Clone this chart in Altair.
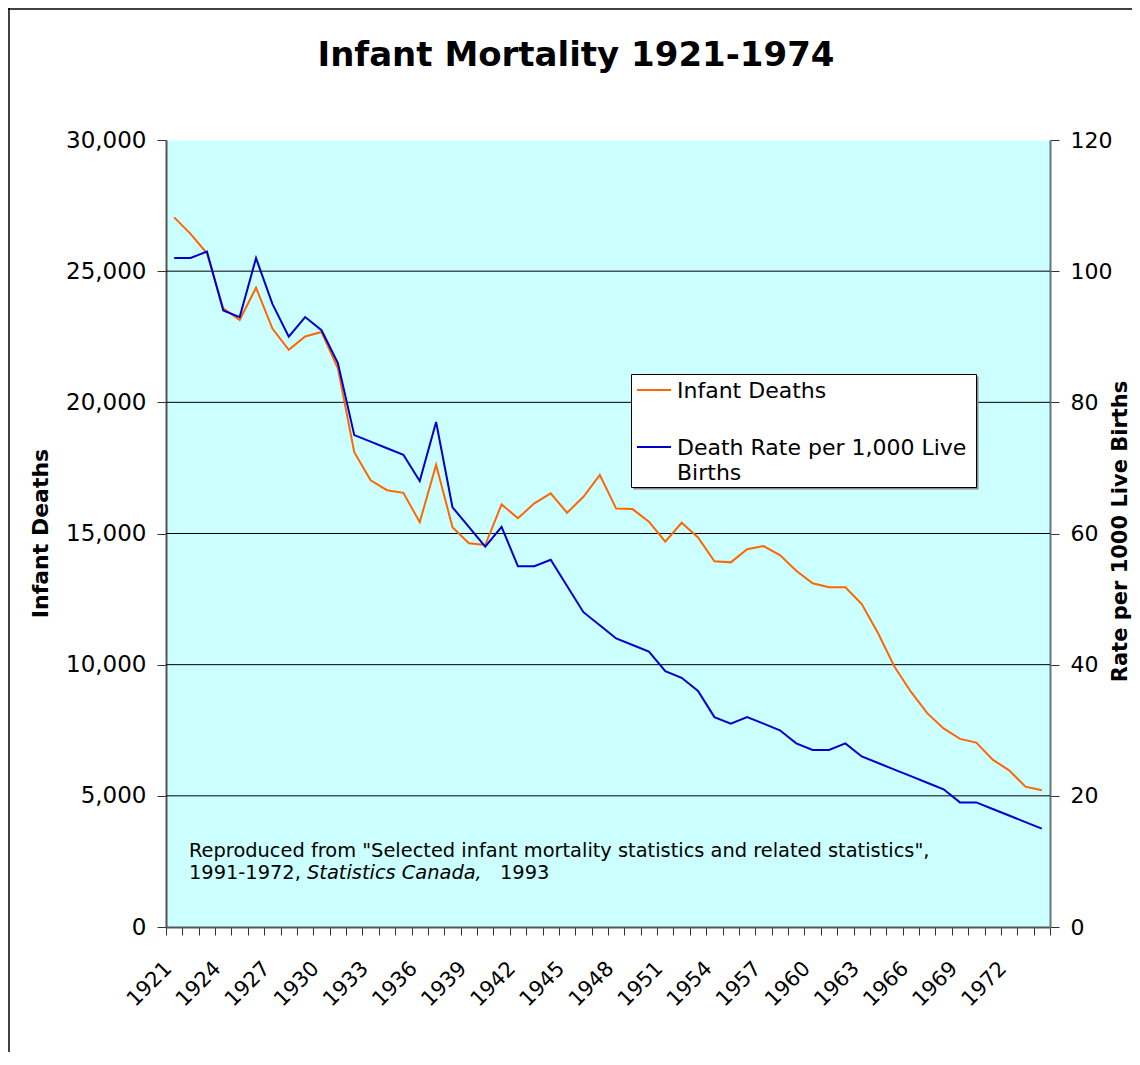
import altair as alt
import pandas as pd

# ---------------- data ----------------
years = list(range(1921, 1975))
infant_deaths = [
    27050, 26420, 25680, 23580, 23140, 24370, 22810, 22000, 22510, 22680,
    21300, 18100, 17030, 16650, 16550, 15430, 17620, 15240, 14630, 14560,
    16110, 15580, 16150, 16530, 15790, 16400, 17230, 15950, 15930, 15450,
    14690, 15410, 14850, 13940, 13900, 14400, 14520, 14180, 13580, 13100,
    12950, 12950, 12310, 11200, 9920, 8970, 8150, 7570, 7170, 7030,
    6380, 5970, 5350, 5210,
]
death_rate = [
    102, 102, 103, 94, 93, 102, 95, 90, 93, 91,
    86, 75, 74, 73, 72, 68, 77, 64, 61, 58,
    61, 55, 55, 56, 52, 48, 46, 44, 43, 42,
    39, 38, 36, 32, 31, 32, 31, 30, 28, 27,
    27, 28, 26, 25, 24, 23, 22, 21, 19, 19,
    18, 17, 16, 15,
]
left_ticks = [0, 5000, 10000, 15000, 20000, 25000, 30000]
right_ticks = [0, 20, 40, 60, 80, 100, 120]
grid_values = [5000, 10000, 15000, 20000, 25000]
label_years = list(range(1921, 1975, 3))
boundary_ticks = [y - 0.5 for y in range(1921, 1976)]

title_text = "Infant Mortality 1921-1974"
left_title = "Infant Deaths"
right_title = "Rate per 1000 Live Births"
legend_label_1 = "Infant Deaths"
legend_label_2a = "Death Rate per 1,000 Live"
legend_label_2b = "Births"
note_line1 = 'Reproduced from "Selected infant mortality statistics and related statistics",'
note_line2a = "1991-1972,"
note_line2b = "Statistics Canada,"
note_line2c = "1993"

ORANGE = "#FF6600"
BLUE = "#0000CC"
FONT = "DejaVu Sans"

df = pd.DataFrame({"year": years, "deaths": infant_deaths, "rate": death_rate})
grid_df = pd.DataFrame({"v": grid_values})
one = pd.DataFrame({"a": [0]})

xdom = [1920.5, 1974.5]

# ---------------- layers ----------------
grid = alt.Chart(grid_df).mark_rule(color="black", strokeWidth=1).encode(
    y=alt.Y("v:Q", scale=alt.Scale(domain=[0, 30000], nice=False), axis=None)
)

orange = alt.Chart(df).mark_line(color=ORANGE, strokeWidth=2).encode(
    x=alt.X(
        "year:Q",
        scale=alt.Scale(domain=xdom, nice=False, zero=False),
        axis=alt.Axis(
            orient="bottom", values=boundary_ticks, labels=False, ticks=True,
            tickSize=8, tickColor="#333333", tickWidth=1,
            domainColor="#555555", domainWidth=2, grid=False,
        ),
        title=None,
    ),
    y=alt.Y(
        "deaths:Q",
        scale=alt.Scale(domain=[0, 30000], nice=False),
        axis=alt.Axis(
            orient="left", values=left_ticks, format=",d", grid=False,
            labelFont=FONT, labelFontSize=23, labelColor="black", labelPadding=11,
            tickSize=9, tickColor="#333333", domainColor="#555555", domainWidth=2,
            title=left_title, titleFont=FONT, titleFontSize=22, titleFontWeight="bold",
            titleColor="black", titleX=-126, titleY=393, titleAngle=270,
            titleAlign="center", titleBaseline="middle",
        ),
    ),
)

blue = alt.Chart(df).mark_line(color=BLUE, strokeWidth=2).encode(
    x=alt.X(
        "year:Q",
        scale=alt.Scale(domain=xdom, nice=False, zero=False),
        axis=alt.Axis(
            orient="bottom", values=label_years, ticks=False, domain=False, grid=False,
            labelAngle=315, labelAlign="right", labelBaseline="middle",
            labelPadding=38, labelOffset=-6, labelFont=FONT, labelFontSize=21,
            labelColor="black", labelOverlap=False, labelFlush=False, format="d",
        ),
        title=None,
    ),
    y=alt.Y(
        "rate:Q",
        scale=alt.Scale(domain=[0, 120], nice=False),
        axis=alt.Axis(
            orient="right", values=right_ticks, format="d", grid=False,
            labelFont=FONT, labelFontSize=22, labelColor="black", labelPadding=11,
            tickSize=9, tickColor="#333333", domainColor="#667777", domainWidth=2,
            title=right_title, titleFont=FONT, titleFontSize=21, titleFontWeight="bold",
            titleColor="black", titleX=70, titleY=391, titleAngle=270,
            titleAlign="center", titleBaseline="middle",
        ),
    ),
)

# legend (custom box)
legend_shadow = alt.Chart(one).mark_rect(color="#8a8a8a").encode(
    x=alt.value(467.5), x2=alt.value(812.5), y=alt.value(236.5), y2=alt.value(349.5)
)
legend_box = alt.Chart(one).mark_rect(fill="white", stroke="black", strokeWidth=1).encode(
    x=alt.value(465.5), x2=alt.value(810.5), y=alt.value(234.5), y2=alt.value(347.5)
)
legend_line1 = alt.Chart(one).mark_rule(color=ORANGE, strokeWidth=2).encode(
    x=alt.value(471), x2=alt.value(505), y=alt.value(250)
)
legend_line2 = alt.Chart(one).mark_rule(color=BLUE, strokeWidth=2).encode(
    x=alt.value(471), x2=alt.value(505), y=alt.value(307)
)
lt = dict(align="left", baseline="middle", font=FONT, fontSize=22, color="black")
legend_t1 = alt.Chart(one).mark_text(text=legend_label_1, **lt).encode(
    x=alt.value(511), y=alt.value(251)
)
legend_t2 = alt.Chart(one).mark_text(text=legend_label_2a, **lt).encode(
    x=alt.value(511), y=alt.value(308)
)
legend_t3 = alt.Chart(one).mark_text(text=legend_label_2b, **lt).encode(
    x=alt.value(511), y=alt.value(333)
)

# source note
nt = dict(align="left", baseline="middle", font=FONT, fontSize=19.4, color="black")
note1 = alt.Chart(one).mark_text(text=note_line1, **nt).encode(x=alt.value(23), y=alt.value(711))
note2 = alt.Chart(one).mark_text(text=note_line2a, **nt).encode(x=alt.value(23), y=alt.value(733))
note3 = alt.Chart(one).mark_text(text=note_line2b, fontStyle="italic", **nt).encode(
    x=alt.value(141), y=alt.value(733)
)
note4 = alt.Chart(one).mark_text(text=note_line2c, **nt).encode(x=alt.value(334), y=alt.value(733))

# title
title = alt.Chart(one).mark_text(
    text=title_text, align="center", baseline="middle", font=FONT,
    fontSize=34, fontWeight="bold", color="black",
).encode(x=alt.value(410), y=alt.value(-84))

# outer chart border
border_top = alt.Chart(one).mark_rule(color="black", strokeWidth=1.5).encode(
    x=alt.value(-158), x2=alt.value(970), y=alt.value(-131)
)
border_left = alt.Chart(one).mark_rule(color="black", strokeWidth=1.5).encode(
    x=alt.value(-157), y=alt.value(-132), y2=alt.value(915)
)

chart = alt.layer(
    grid, orange, blue,
    legend_shadow, legend_box, legend_line1, legend_line2,
    legend_t1, legend_t2, legend_t3,
    note1, note2, note3, note4,
    title, border_top, border_left,
).resolve_scale(
    y="independent"
).resolve_axis(
    x="independent", y="independent"
).properties(
    width=884, height=787,
    autosize=alt.AutoSizeParams(type="none"),
    padding={"left": 158, "top": 132, "right": 82, "bottom": 125},
    background="white",
).configure_view(
    fill="#CCFFFF", stroke="transparent"
)

chart.save("out.html", embed_options={"renderer": "svg", "actions": False})
